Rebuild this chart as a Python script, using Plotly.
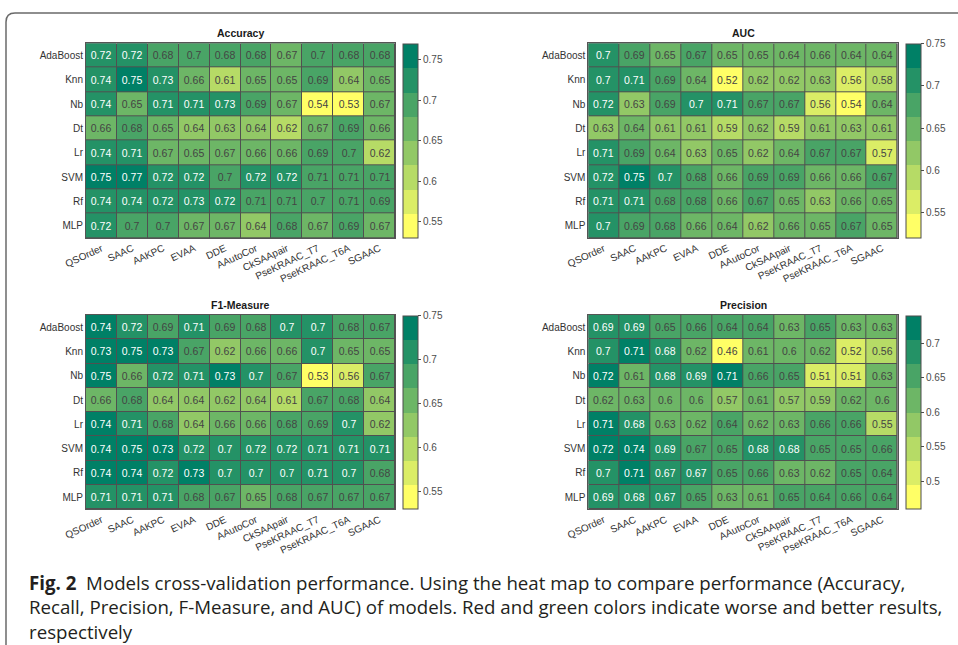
import plotly.graph_objects as go

models = ["AdaBoost", "Knn", "Nb", "Dt", "Lr", "SVM", "Rf", "MLP"]
features = ["QSOrder", "SAAC", "AAKPC", "EVAA", "DDE", "AAutoCor", "CkSAApair",
            "PseKRAAC_T7", "PseKRAAC_T6A", "SGAAC"]

# values (3rd decimal estimated from cell colour where needed)
accuracy = [
    [0.72, 0.72, 0.682, 0.70, 0.682, 0.682, 0.67, 0.70, 0.682, 0.682],
    [0.738, 0.75, 0.73, 0.66, 0.61, 0.652, 0.652, 0.69, 0.64, 0.652],
    [0.738, 0.652, 0.712, 0.712, 0.73, 0.69, 0.67, 0.54, 0.53, 0.67],
    [0.66, 0.682, 0.652, 0.64, 0.63, 0.64, 0.618, 0.67, 0.69, 0.66],
    [0.738, 0.712, 0.67, 0.652, 0.67, 0.66, 0.66, 0.69, 0.70, 0.618],
    [0.75, 0.77, 0.72, 0.72, 0.70, 0.72, 0.72, 0.708, 0.708, 0.708],
    [0.738, 0.738, 0.72, 0.73, 0.72, 0.708, 0.708, 0.70, 0.708, 0.69],
    [0.72, 0.70, 0.70, 0.67, 0.67, 0.64, 0.682, 0.67, 0.69, 0.67],
]
auc = [
    [0.70, 0.69, 0.65, 0.67, 0.65, 0.65, 0.64, 0.66, 0.64, 0.64],
    [0.70, 0.71, 0.69, 0.64, 0.52, 0.62, 0.62, 0.63, 0.56, 0.58],
    [0.72, 0.63, 0.69, 0.70, 0.71, 0.67, 0.67, 0.56, 0.54, 0.64],
    [0.63, 0.64, 0.61, 0.61, 0.59, 0.62, 0.59, 0.61, 0.63, 0.61],
    [0.71, 0.69, 0.64, 0.63, 0.65, 0.62, 0.64, 0.67, 0.67, 0.57],
    [0.72, 0.75, 0.70, 0.68, 0.66, 0.69, 0.69, 0.66, 0.66, 0.67],
    [0.71, 0.71, 0.68, 0.68, 0.66, 0.67, 0.65, 0.63, 0.66, 0.65],
    [0.70, 0.69, 0.68, 0.66, 0.64, 0.62, 0.66, 0.65, 0.67, 0.65],
]
f1_measure = [
    [0.74, 0.72, 0.69, 0.71, 0.69, 0.68, 0.70, 0.70, 0.68, 0.67],
    [0.73, 0.75, 0.73, 0.67, 0.62, 0.66, 0.66, 0.70, 0.65, 0.65],
    [0.75, 0.66, 0.72, 0.71, 0.73, 0.70, 0.67, 0.53, 0.56, 0.67],
    [0.66, 0.68, 0.638, 0.638, 0.62, 0.638, 0.61, 0.67, 0.68, 0.638],
    [0.74, 0.71, 0.68, 0.638, 0.66, 0.66, 0.68, 0.69, 0.70, 0.62],
    [0.74, 0.75, 0.73, 0.72, 0.70, 0.72, 0.72, 0.71, 0.71, 0.71],
    [0.74, 0.74, 0.72, 0.73, 0.70, 0.70, 0.70, 0.71, 0.70, 0.68],
    [0.71, 0.71, 0.71, 0.68, 0.67, 0.65, 0.68, 0.67, 0.67, 0.67],
]
precision = [
    [0.69, 0.69, 0.65, 0.66, 0.64, 0.64, 0.63, 0.65, 0.63, 0.63],
    [0.70, 0.71, 0.68, 0.62, 0.46, 0.61, 0.602, 0.62, 0.52, 0.56],
    [0.72, 0.61, 0.68, 0.69, 0.71, 0.66, 0.65, 0.51, 0.51, 0.63],
    [0.62, 0.63, 0.602, 0.602, 0.57, 0.61, 0.57, 0.59, 0.62, 0.602],
    [0.71, 0.68, 0.63, 0.62, 0.64, 0.62, 0.63, 0.66, 0.66, 0.55],
    [0.72, 0.74, 0.69, 0.668, 0.65, 0.68, 0.68, 0.65, 0.65, 0.66],
    [0.70, 0.71, 0.672, 0.672, 0.65, 0.66, 0.63, 0.62, 0.65, 0.64],
    [0.69, 0.68, 0.672, 0.65, 0.63, 0.61, 0.65, 0.64, 0.66, 0.64],
]

W, H = 958, 645

# flipped MATLAB "summer" map with 8 levels (low = yellow, high = green)
n_levels = 8
levels = []
for k in range(n_levels):
    r = 1 - k / (n_levels - 1)
    levels.append("rgb(%d,%d,%d)" % (round(255 * r), round(255 * (0.5 + r / 2)), 102))
scale = []
for k, c in enumerate(levels):
    scale.append([k / n_levels, c])
    scale.append([(k + 1) / n_levels, c])

panels = [
    ("Accuracy", accuracy, (86, 395), (43.3, 238), 403),
    ("AUC", auc, (588.3, 897.7), (43.3, 238), 906),
    ("F1-Measure", f1_measure, (86, 395), (315, 509.3), 403),
    ("Precision", precision, (588.3, 897.7), (315, 509.3), 906),
]

fig = go.Figure()
annotations = []
layout_axes = {}
font_main = "Liberation Sans, Arial, sans-serif"
for i, (title, z, (x0, x1), (y0, y1), cbx) in enumerate(panels):
    idx = "" if i == 0 else str(i + 1)
    fig.add_trace(go.Heatmap(
        z=z, x=features, y=models,
        xaxis="x" + idx, yaxis="y" + idx,
        colorscale=scale, xgap=1, ygap=1,
        texttemplate="%{z:.2~g}",
        textfont=dict(family=font_main, size=10.5),
        hoverinfo="skip",
        colorbar=dict(
            x=cbx / W, xanchor="left", xpad=0, ypad=0,
            y=1 - (y0 + y1) / 2 / H, yanchor="middle",
            len=(y1 - y0 - 1), lenmode="pixels",
            thickness=15, thicknessmode="pixels",
            outlinewidth=1, outlinecolor="#4d4d4d",
            ticks="outside", ticklen=3, tickcolor="#4d4d4d",
            tick0=0, dtick=0.05,
            tickfont=dict(family=font_main, size=10, color="#4d4d4d"),
        ),
    ))
    layout_axes["xaxis" + idx] = dict(
        domain=[x0 / W, x1 / W], anchor="y" + idx,
        tickangle=-25, tickfont=dict(family=font_main, size=10, color="#333333"),
        showline=True, mirror=True, linecolor="#555555", linewidth=1,
        ticks="", showgrid=False, zeroline=False, fixedrange=True,
    )
    layout_axes["yaxis" + idx] = dict(
        domain=[1 - y1 / H, 1 - y0 / H], anchor="x" + idx,
        autorange="reversed",
        tickfont=dict(family=font_main, size=10, color="#333333"),
        showline=True, mirror=True, linecolor="#555555", linewidth=1,
        ticks="", ticklen=2, showgrid=False, zeroline=False, fixedrange=True,
    )
    annotations.append(dict(
        text="<b>%s</b>" % title, x=(x0 + x1) / 2 / W, y=1 - (y0 - 2) / H,
        xref="paper", yref="paper", xanchor="center", yanchor="bottom",
        showarrow=False, font=dict(family=font_main, size=10.5, color="#1a1a1a"),
    ))

caption = ("<b>Fig. 2</b>  Models cross-validation performance. Using the heat map to compare performance (Accuracy,<br>"
           "Recall, Precision, F-Measure, and AUC) of models. Red and green colors indicate worse and better results,<br>"
           "respectively")
annotations.append(dict(
    text=caption, x=27 / W, y=1 - 568 / H, xref="paper", yref="paper",
    xanchor="left", yanchor="top", align="left", showarrow=False,
    font=dict(family="Open Sans, Liberation Sans, sans-serif", size=18.7, color="#231f20"),
))

# rounded frame around the figure (top-left corner visible)
fx, fy, rad = 6 / W, 1 - 13 / H, 9
path = "M %f,0 L %f,%f Q %f,%f %f,%f L 1.01,%f" % (
    fx, fx, 1 - (13 + rad) / H, fx, fy, (6 + rad) / W, fy, fy)

fig.update_layout(
    width=W, height=H,
    margin=dict(l=0, r=0, t=0, b=0, autoexpand=False),
    paper_bgcolor="white", plot_bgcolor="#505050",
    annotations=annotations,
    shapes=[dict(type="path", path=path, xref="paper", yref="paper",
                 line=dict(color="#6a6a6a", width=1.5))],
    showlegend=False,
    **layout_axes,
)
fig.write_html("out.html", config={"displayModeBar": False},
               post_script="document.body.style.margin='0px';document.body.style.overflow='hidden';")
